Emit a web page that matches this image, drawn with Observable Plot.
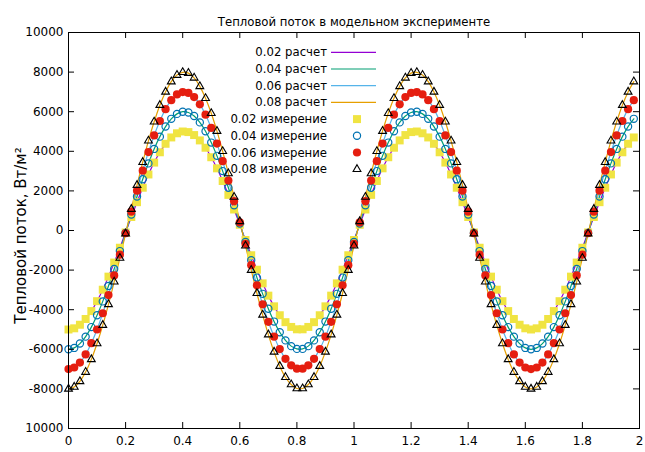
<!DOCTYPE html>
<html><head><meta charset="utf-8">
<script src="https://cdn.jsdelivr.net/npm/d3@7"></script>
<script src="https://cdn.jsdelivr.net/npm/@observablehq/plot@0.6"></script>
<style>body{margin:0;background:#fff}#chart svg{display:block}</style>
</head><body><div id="chart"></div>
<script>
const titleText = "Тепловой поток в модельном эксперименте";
const yLabelText = "Тепловой поток, Вт/м²";
const calcLabels = ["0.02 расчет","0.04 расчет","0.06 расчет","0.08 расчет"];
const measLabels = ["0.02 измерение","0.04 измерение","0.06 измерение","0.08 измерение"];
const xTicks = [0,0.2,0.4,0.6,0.8,1,1.2,1.4,1.6,1.8,2];
const xTickLabels = ["0","0.2","0.4","0.6","0.8","1","1.2","1.4","1.6","1.8","2"];
const yTicks = [10000,8000,6000,4000,2000,0,-2000,-4000,-6000,-8000,-10000];
const yTickLabels = ["10000","8000","6000","4000","2000","0","-2000","-4000","-6000","-8000","10000"];

const xs = [0,0.02,0.04,0.06,0.08,0.1,0.12,0.14,0.16,0.18,0.2,0.22,0.24,0.26,0.28,0.3,0.32,0.34,0.36,0.38,
0.4,0.42,0.44,0.46,0.48,0.5,0.52,0.54,0.56,0.58,0.6,0.62,0.64,0.66,0.68,0.7,0.72,0.74,0.76,0.78,
0.8,0.82,0.84,0.86,0.88,0.9,0.92,0.94,0.96,0.98,1,1.02,1.04,1.06,1.08,1.1,1.12,1.14,1.16,1.18,
1.2,1.22,1.24,1.26,1.28,1.3,1.32,1.34,1.36,1.38,1.4,1.42,1.44,1.46,1.48,1.5,1.52,1.54,1.56,1.58,
1.6,1.62,1.64,1.66,1.68,1.7,1.72,1.74,1.76,1.78,1.8,1.82,1.84,1.86,1.88,1.9,1.92,1.94,1.96,1.98];

const q002 = [-5000,-4940,-4760,-4470,-4070,-3570,-2990,-2330,-1620,-870,-100,680,1430,2160,2830,3430,3950,4380,4700,4910,
5000,4970,4820,4550,4180,3700,3140,2500,1800,1060,290,-480,-1250,-1980,-2670,-3290,-3830,-4280,-4630,-4870,
-4990,-4990,-4870,-4630,-4280,-3830,-3290,-2670,-1980,-1250,-480,290,1060,1800,2500,3140,3700,4180,4550,4820,
4970,5000,4910,4700,4380,3950,3430,2830,2160,1430,680,-100,-870,-1620,-2330,-2990,-3570,-4070,-4470,-4760,
-4940,-5000,-4940,-4760,-4470,-4070,-3570,-2990,-2330,-1620,-870,-100,680,1430,2160,2830,3430,3950,4380,4700];

const q004 = [-6000,-5930,-5710,-5360,-4880,-4280,-3580,-2800,-1940,-1040,-120,810,1720,2590,3390,4120,4740,5250,5640,5890,
6000,5960,5780,5460,5010,4440,3770,3000,2160,1270,350,-580,-1500,-2380,-3200,-3950,-4600,-5140,-5550,-5840,
-5980,-5980,-5840,-5550,-5140,-4600,-3950,-3200,-2380,-1500,-580,350,1270,2160,3000,3770,4440,5010,5460,5780,
5960,6000,5890,5640,5250,4740,4120,3390,2590,1720,810,-120,-1040,-1940,-2800,-3580,-4280,-4880,-5360,-5710,
-5930,-6000,-5930,-5710,-5360,-4880,-4280,-3580,-2800,-1940,-1040,-120,810,1720,2590,3390,4120,4740,5250,5640];

const q006 = [-7000,-6920,-6670,-6260,-5690,-5000,-4180,-3260,-2270,-1220,-140,950,2010,3020,3960,4800,5530,6130,6580,6870,
6990,6950,6740,6370,5850,5180,4390,3500,2520,1480,410,-680,-1750,-2770,-3730,-4610,-5360,-5990,-6480,-6810,
-6980,-6980,-6810,-6480,-5990,-5360,-4610,-3730,-2770,-1750,-680,410,1480,2520,3500,4390,5180,5850,6370,6740,
6950,6990,6870,6580,6130,5530,4800,3960,3020,2010,950,-140,-1220,-2270,-3260,-4180,-5000,-5690,-6260,-6670,
-6920,-7000,-6920,-6670,-6260,-5690,-5000,-4180,-3260,-2270,-1220,-140,950,2010,3020,3960,4800,5530,6130,6580];

const q008 = [-8000,-7900,-7620,-7150,-6510,-5710,-4780,-3730,-2590,-1390,-160,1080,2290,3450,4530,5490,6330,7000,7520,7850,
7990,7950,7710,7280,6680,5920,5020,4000,2880,1690,460,-770,-2000,-3170,-4260,-5260,-6130,-6850,-7410,-7780,
-7980,-7980,-7780,-7410,-6850,-6130,-5260,-4260,-3170,-2000,-770,460,1690,2880,4000,5020,5920,6680,7280,7710,
7950,7990,7850,7520,7000,6330,5490,4530,3450,2290,1080,-160,-1390,-2590,-3730,-4780,-5710,-6510,-7150,-7620,
-7900,-8000,-7900,-7620,-7150,-6510,-5710,-4780,-3730,-2590,-1390,-160,1080,2290,3450,4530,5490,6330,7000,7520];

const seriesVals = [q002, q004, q006, q008];
const lineColors = ["#9400d3","#009e73","#56b4e9","#e69f00"];
const rows = seriesVals.map(v => xs.map((x, i) => ({x, y: v[i]})));

const W = 645, H = 452, mL = 68, mR = 6, mT = 32, mB = 24;
const fw = W - mL - mR, fh = H - mT - mB;
const font = "DejaVu Sans";

const dotStyles = [
  {symbol: "square", fill: "#f0e442", stroke: "none", r: 4.5},
  {symbol: "circle", fill: "none", stroke: "#0072b2", strokeWidth: 1.2, r: 3.6},
  {symbol: "circle", fill: "#e51e10", stroke: "none", r: 4.1},
  {symbol: "triangle", fill: "none", stroke: "#000", strokeWidth: 1.1, r: 2.9}
];

const plot = Plot.plot({
  width: W, height: H,
  marginLeft: mL, marginRight: mR, marginTop: mT, marginBottom: mB,
  x: {domain: [0, 2], axis: null},
  y: {domain: [-10000, 10000], axis: null},
  style: {fontFamily: font, fontSize: "12px", background: "#fff", color: "#000"},
  marks: [
    ...rows.map((r, k) => Plot.line(r, {x: "x", y: "y", stroke: lineColors[k], strokeWidth: 1.2, curve: "catmull-rom"})),
    ...rows.map((r, k) => Plot.dot(r, {x: "x", y: "y", ...dotStyles[k]})),
    Plot.frame({stroke: "#000", strokeWidth: 1}),
    Plot.tickX(xTicks, {x: d => d, insetTop: fh - 6, stroke: "#000"}),
    Plot.tickX(xTicks, {x: d => d, insetBottom: fh - 6, stroke: "#000"}),
    Plot.tickY(yTicks, {y: d => d, insetRight: fw - 6, stroke: "#000"}),
    Plot.tickY(yTicks, {y: d => d, insetLeft: fw - 6, stroke: "#000"}),
    Plot.axisX(xTicks, {label: null, tickSize: 0, tickPadding: 8, fontSize: 12, tickFormat: d => xTickLabels[xTicks.indexOf(d)]}),
    Plot.axisY(yTicks, {label: null, tickSize: 0, tickPadding: 5, fontSize: 12, tickFormat: d => yTickLabels[yTicks.indexOf(d)]}),
    Plot.text([titleText], {frameAnchor: "top", dy: -15, fontSize: 11.7}),
    Plot.text([yLabelText], {frameAnchor: "left", dx: -47, dy: 5, rotate: -90, textAnchor: "middle", fontSize: 15})
  ]
});
document.getElementById("chart").appendChild(plot);

// legend (inside the plot, gnuplot style)
const svg = d3.select(plot);
const lg = svg.append("g").attr("font-family", font).attr("font-size", 11.7);
const rowY0 = 52.3, rowStep = 16.7, textX = 327, lineX1 = 331, lineX2 = 376, markX = 357;
calcLabels.forEach((lab, k) => {
  const y = rowY0 + k * rowStep;
  lg.append("text").attr("x", textX).attr("y", y).attr("dy", "0.35em").attr("text-anchor", "end").text(lab);
  lg.append("line").attr("x1", lineX1).attr("x2", lineX2).attr("y1", y).attr("y2", y)
    .attr("stroke", lineColors[k]).attr("stroke-width", 1.2);
});
const symMap = {square: d3.symbolSquare, circle: d3.symbolCircle, triangle: d3.symbolTriangle};
measLabels.forEach((lab, k) => {
  const y = rowY0 + (k + 4) * rowStep;
  const st = dotStyles[k];
  lg.append("text").attr("x", textX).attr("y", y).attr("dy", "0.35em").attr("text-anchor", "end").text(lab);
  lg.append("path").attr("transform", `translate(${markX},${y})`)
    .attr("d", d3.symbol(symMap[st.symbol], Math.PI * st.r * st.r)())
    .attr("fill", st.fill).attr("stroke", st.stroke).attr("stroke-width", st.strokeWidth || 0);
});
</script></body></html>
